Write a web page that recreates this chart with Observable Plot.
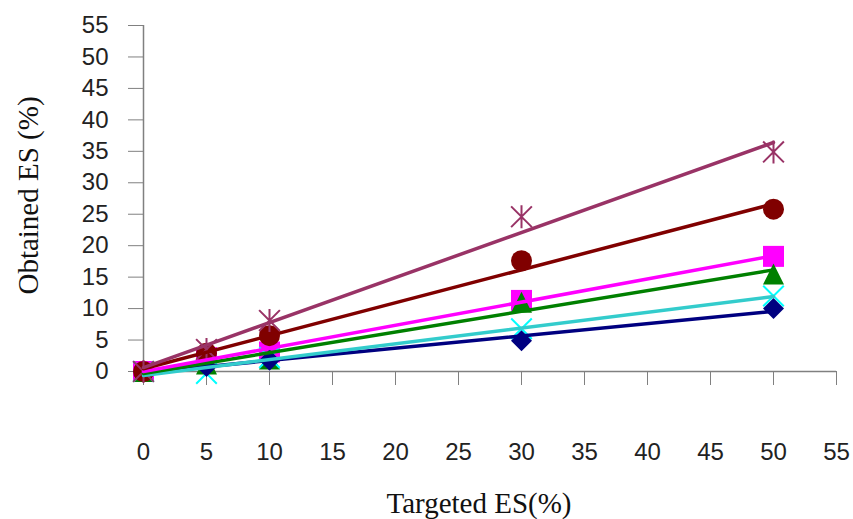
<!DOCTYPE html>
<html><head><meta charset="utf-8">
<script src="https://cdn.jsdelivr.net/npm/d3@7"></script>
<script src="https://cdn.jsdelivr.net/npm/@observablehq/plot@0.6"></script>
<style>body{margin:0;background:#fff}</style>
</head><body><div id="chart"></div>
<script>
// Data
const targeted = [0, 5, 10, 30, 50];
const xTicks = [0, 5, 10, 15, 20, 25, 30, 35, 40, 45, 50, 55];
const yTicks = [0, 5, 10, 15, 20, 25, 30, 35, 40, 45, 50, 55];
const seriesNames = ["S1", "S2", "S3", "S4", "S5", "S6"];
const diamondValues  = [0, 0.8, 1.8, 4.9, 10.0];
const squareValues   = [0, 2.2, 3.1, 11.3, 18.3];
const triangleValues = [0, 1.2, 2.0, 11.0, 15.5];
const crossValues    = [0, -0.3, 2.2, 6.8, 12.0];
const circleValues   = [0, 2.9, 5.7, 17.6, 25.8];
const starValues     = [0, 3.5, 8.1, 24.6, 34.9];
const xLabel = "Targeted ES(%)";
const yLabel = "Obtained ES (%)";

const rad = (size) => Math.sqrt(size / Math.PI);
const symSquare = {draw(c, s){ const r = rad(s); c.rect(-r, -r, 2*r, 2*r); }};
const symCircle = {draw(c, s){ const r = rad(s); c.moveTo(r, 0); c.arc(0, 0, r, 0, 2*Math.PI); }};
const symTriangle = {draw(c, s){ const r = rad(s); c.moveTo(0, -r); c.lineTo(r, r); c.lineTo(-r, r); c.closePath(); }};
const symDiamond = {draw(c, s){ const r = rad(s); c.moveTo(0, -r); c.lineTo(r, 0); c.lineTo(0, r); c.lineTo(-r, 0); c.closePath(); }};
const symCross = {draw(c, s){ const r = rad(s) * 0.98; c.moveTo(-r, -r); c.lineTo(r, r); c.moveTo(r, -r); c.lineTo(-r, r); }};
const symStar = {draw(c, s){ const r = rad(s) * 1.1; const d = r * 0.9; c.moveTo(0, -r); c.lineTo(0, r); c.moveTo(-d, -d); c.lineTo(d, d); c.moveTo(d, -d); c.lineTo(-d, d); }};

const series = [
  {name: seriesNames[0], values: diamondValues,  color: "#000080", line: "#000080", symbol: symDiamond,  filled: true},
  {name: seriesNames[1], values: squareValues,   color: "#FF00FF", line: "#FF00FF", symbol: symSquare,   filled: true},
  {name: seriesNames[2], values: triangleValues, color: "#008000", line: "#008000", symbol: symTriangle, filled: true},
  {name: seriesNames[3], values: crossValues,    color: "#00FFFF", line: "#33CCCC", symbol: symCross,    filled: false},
  {name: seriesNames[4], values: circleValues,   color: "#800000", line: "#800000", symbol: symCircle,   filled: true},
  {name: seriesNames[5], values: starValues,     color: "#993366", line: "#993366", symbol: symStar,     filled: false}
];
const rows = series.map(s => s.values.map((v, i) => ({x: targeted[i], y: v, series: s.name})));

const markerOrder = [1, 2, 3, 0, 4, 5];
const lineOrder = [0, 3, 2, 1, 4, 5];

const marks = [
  Plot.ruleY([0], {stroke: "#808080", strokeWidth: 1.5}),
  Plot.ruleX([0], {stroke: "#808080", strokeWidth: 1.5}),
  Plot.axisY({ticks: yTicks, tickSize: 15, tickPadding: 20, fontSize: 24, stroke: "#808080", fill: "#222", label: null, tickFormat: d => String(d)}),
  Plot.axisX({ticks: xTicks, tickSize: 14, tickPadding: 57, fontSize: 24, stroke: "#808080", fill: "#222", label: null, tickFormat: d => String(d)}),
  ...markerOrder.map(i => {
    const s = series[i];
    return Plot.dot(rows[i], {x: "x", y: "y", r: 10.5, symbol: s.symbol,
      fill: s.filled ? s.color : "none", stroke: s.filled ? "none" : s.color, strokeWidth: 2});
  }),
  ...lineOrder.map(i => Plot.linearRegressionY(rows[i], {x: "x", y: "y", stroke: series[i].line, strokeWidth: 3.5, ci: 0})),
  Plot.text([xLabel], {frameAnchor: "bottom", dy: 132, dx: -11, textAnchor: "middle", lineAnchor: "middle", fontFamily: "'Liberation Serif', 'Times New Roman', serif", fontSize: 29, fill: "#111"}),
  Plot.text([yLabel], {frameAnchor: "left", dx: -115, dy: -3, rotate: -90, textAnchor: "middle", lineAnchor: "middle", fontFamily: "'Liberation Serif', 'Times New Roman', serif", fontSize: 29, fill: "#111"})
];

const chart = Plot.plot({
  width: 853, height: 519,
  marginLeft: 143, marginRight: 17, marginTop: 25, marginBottom: 148,
  x: {domain: [0, 55]},
  y: {domain: [0, 55]},
  style: {fontFamily: "'Liberation Sans', Arial, sans-serif", background: "#fff", overflow: "visible"},
  marks
});
document.getElementById("chart").appendChild(chart);
</script>
</body></html>
